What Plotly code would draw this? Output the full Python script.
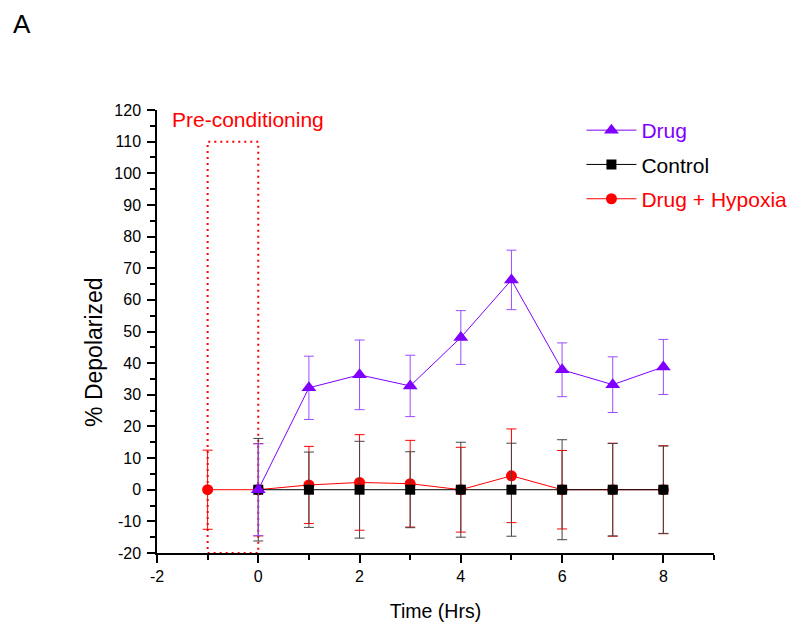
import plotly.graph_objects as go

# ---- data ----
time_drug = [0, 1, 2, 3, 4, 5, 6, 7, 8]
drug = [0, 32.2, 36.3, 32.8, 48.1, 66.3, 37.9, 33.2, 38.8]
drug_err = [14.5, 10, 11, 9.7, 8.5, 9.4, 8.5, 8.8, 8.7]

time_ctrl = [0, 1, 2, 3, 4, 5, 6, 7, 8]
control = [0, 0, 0, 0, 0, 0, 0, 0, 0]
control_err = [16.2, 11.9, 15.3, 12.0, 15.0, 14.7, 15.8, 14.6, 13.8]

time_hyp = [-1, 0, 1, 2, 3, 4, 5, 6, 7, 8]
hypoxia = [0, 0, 1.5, 2.3, 1.9, 0, 4.4, 0, 0, 0]
hypoxia_err = [12.5, 14.6, 12.2, 15.1, 13.7, 13.4, 14.8, 12.4, 14.7, 13.9]

x_tickvals = [-2, 0, 2, 4, 6, 8]
x_ticktext = ["-2", "0", "2", "4", "6", "8"]
y_tickvals = [-20, -10, 0, 10, 20, 30, 40, 50, 60, 70, 80, 90, 100, 110, 120]
y_ticktext = ["-20", "-10", "0", "10", "20", "30", "40", "50", "60", "70",
              "80", "90", "100", "110", "120"]

precond_x = [-1, 0]
precond_top = 110
y_floor = -20

PURPLE = "#7F00FF"
RED = "#FF0000"
BLACK = "#000000"
FONT = "Liberation Sans, Arial, sans-serif"

fig = go.Figure()

fig.add_trace(go.Scatter(
    x=time_hyp, y=hypoxia, mode="lines+markers",
    name=f'<span style="color:{RED}">Drug + Hypoxia</span>',
    legendgroup="c", legendrank=3,
    line=dict(color=RED, width=1),
    marker=dict(symbol="circle", size=11, color=RED),
    error_y=dict(type="data", array=hypoxia_err, color=RED, thickness=1, width=5),
))
fig.add_trace(go.Scatter(
    x=time_ctrl, y=control, mode="lines+markers",
    name=f'<span style="color:{BLACK}">Control</span>',
    legendgroup="b", legendrank=2,
    line=dict(color=BLACK, width=1),
    marker=dict(symbol="square", size=10, color=BLACK),
    error_y=dict(type="data", array=control_err, color="#444444", thickness=1, width=5),
))
fig.add_trace(go.Scatter(
    x=time_drug, y=drug, mode="lines+markers",
    name=f'<span style="color:{PURPLE}">Drug</span>',
    legendgroup="a", legendrank=1,
    line=dict(color=PURPLE, width=1),
    marker=dict(symbol="triangle-up", size=13, color=PURPLE),
    error_y=dict(type="data", array=drug_err, color="#9A4DFF", thickness=1, width=5),
))

fig.add_shape(type="rect", xref="x", yref="y",
              x0=precond_x[0], x1=precond_x[1], y0=y_floor, y1=precond_top,
              line=dict(color=RED, width=2, dash="2px,4px"), layer="below")

fig.add_annotation(x=-0.2, y=117, xref="x", yref="y", text="Pre-conditioning",
                   showarrow=False, font=dict(color=RED, size=21, family=FONT))
fig.add_annotation(x=-0.262, y=1.195, xref="paper", yref="paper", text="A",
                   showarrow=False, xanchor="left", yanchor="middle",
                   font=dict(color=BLACK, size=26, family=FONT))
# y-axis title (placed as rotated text, slightly below the plot's mid-height as in the reference)
fig.add_annotation(x=-0.113, y=0.454, xref="paper", yref="paper", text="% Depolarized",
                   showarrow=False, textangle=-90, xanchor="center", yanchor="middle",
                   font=dict(color=BLACK, size=23, family=FONT))

fig.update_layout(
    width=800, height=629,
    margin=dict(l=149, r=94, t=102, b=84, autoexpand=False),
    paper_bgcolor="white", plot_bgcolor="white",
    font=dict(family=FONT, size=16, color=BLACK),
    showlegend=True,
    legend=dict(x=0.762, y=1.0, xanchor="left", yanchor="top",
                font=dict(size=21, family=FONT),
                traceorder="grouped", tracegroupgap=4, itemwidth=50,
                bgcolor="rgba(0,0,0,0)"),
)
fig.update_xaxes(
    range=[-2, 9], tickmode="array", tickvals=x_tickvals, ticktext=x_ticktext,
    automargin=False,
    showgrid=False, zeroline=False, showline=True, linecolor=BLACK, linewidth=1.5,
    ticks="outside", ticklen=8, tickwidth=1.5, tickcolor=BLACK,
    minor=dict(dtick=1, tick0=-2, ticks="outside", ticklen=5, tickcolor=BLACK, tickwidth=1.5),
    title=dict(text="Time (Hrs)", font=dict(size=19.5), standoff=20),
    tickfont=dict(size=16),
)
fig.update_yaxes(
    range=[-20, 120], tickmode="array", tickvals=y_tickvals, ticktext=y_ticktext,
    automargin=False,
    showgrid=False, zeroline=False, showline=True, linecolor=BLACK, linewidth=1.5,
    ticks="outside", ticklen=8, tickwidth=1.5, tickcolor=BLACK,
    minor=dict(dtick=5, tick0=0, ticks="outside", ticklen=5, tickcolor=BLACK, tickwidth=1.5),
    tickfont=dict(size=16), ticklabelstandoff=3,
)

fig.write_html("out.html")
